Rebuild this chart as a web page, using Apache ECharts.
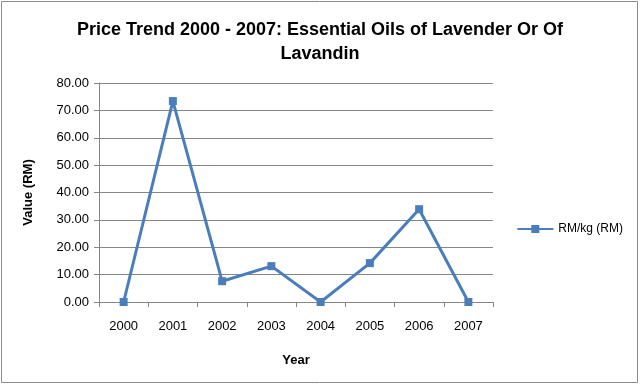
<!DOCTYPE html>
<html><head><meta charset="utf-8">
<script src="https://cdn.jsdelivr.net/npm/echarts@6/dist/echarts.min.js"></script>
<style>html,body{margin:0;padding:0;background:#fff}#c{width:640px;height:385px}</style>
</head><body><div id="c"></div>
<script>
const categories = ['2000','2001','2002','2003','2004','2005','2006','2007'];
const values = [0, 73.4, 7.6, 13.1, 0, 14.2, 33.9, 0];
const seriesName = 'RM/kg (RM)';
const titleText = 'Price Trend 2000 - 2007: Essential Oils of Lavender Or Of\nLavandin';
const FONT = 'Liberation Sans';
const chart = echarts.init(document.getElementById('c'));
chart.setOption({
  animation: false,
  backgroundColor: '#fff',
  graphic: [{type:'rect', shape:{x:1.5,y:1.5,width:636,height:381}, style:{fill:'none', stroke:'#8c8c8c', lineWidth:1}}],
  title: {text: titleText, left: 'center', top: 13, textStyle:{fontFamily:FONT, fontSize:18, fontWeight:'bold', color:'#000', lineHeight:24}},
  legend: {data:[seriesName], right: 12, top: 218, orient:'vertical', itemWidth:36, itemHeight:10, itemGap:4, textStyle:{fontFamily:FONT, fontSize:12, color:'#000'}},
  grid: {left: 99, right: 147, top: 83, bottom: 83},
  xAxis: {type:'category', data: categories, boundaryGap: true,
    name:'Year', nameLocation:'middle', nameGap:52, nameTextStyle:{fontFamily:FONT, fontSize:13, fontWeight:'bold', color:'#000'},
    axisLine:{lineStyle:{color:'#868686'}}, axisTick:{show:true, length:5, lineStyle:{color:'#868686'}},
    axisLabel:{fontFamily:FONT, fontSize:13, color:'#000', margin:18}},
  yAxis: {type:'value', min:0, max:80, interval:10,
    name:'Value (RM)', nameLocation:'middle', nameGap:64, nameRotate:90, nameTextStyle:{fontFamily:FONT, fontSize:13, fontWeight:'bold', color:'#000'},
    axisLine:{show:true, lineStyle:{color:'#868686'}}, axisTick:{show:true, length:5, lineStyle:{color:'#868686'}},
    splitLine:{lineStyle:{color:'#868686'}},
    axisLabel:{fontFamily:FONT, fontSize:13, color:'#000', margin:10, formatter: v => v.toFixed(2)}},
  series: [{name: seriesName, type:'line', data: values, symbol:'rect', symbolSize:8,
    lineStyle:{color:'#4a7ebb', width:3}, itemStyle:{color:'#4a7ebb'}}]
});
</script></body></html>
